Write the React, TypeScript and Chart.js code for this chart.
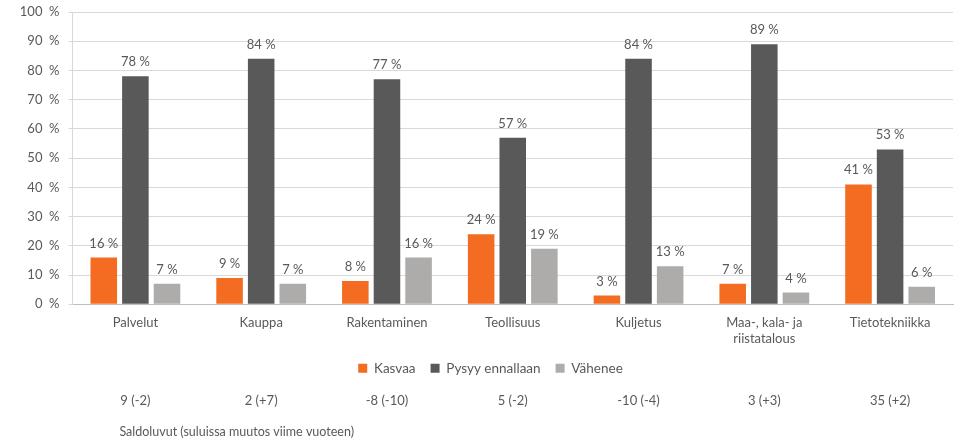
import { useEffect, useRef } from "react";
import { Chart, registerables } from "chart.js";

Chart.register(...registerables);

const FONT = "Lato, 'Liberation Sans', sans-serif";
const TEXT = "#595959";

const categories: (string | string[])[] = [
  "Palvelut",
  "Kauppa",
  "Rakentaminen",
  "Teollisuus",
  "Kuljetus",
  ["Maa-, kala- ja", "riistatalous"],
  "Tietotekniikka",
];
const seriesNames = ["Kasvaa", "Pysyy ennallaan", "Vähenee"];
const kasvaa = [16, 9, 8, 24, 3, 7, 41];
const pysyy = [78, 84, 77, 57, 84, 89, 53];
const vahenee = [7, 7, 16, 19, 13, 4, 6];
const saldo = ["9 (-2)", "2 (+7)", "-8 (-10)", "5 (-2)", "-10 (-4)", "3 (+3)", "35 (+2)"];
const saldoCaption = "Saldoluvut (suluissa muutos viime vuoteen)";
const yMax = 100;
const yStep = 10;

const colors = ["#F36C21", "#595959", "#AEABAB"];

const extraText = {
  id: "extraText",
  afterLayout(chart: any) {
    if (chart.legend) {
      chart.legend.left += 14;
      chart.legend.right += 14;
    }
  },
  afterDatasetsDraw(chart: any) {
    const ctx = chart.ctx;
    ctx.save();
    ctx.font = `13px ${FONT}`;
    ctx.fillStyle = TEXT;
    ctx.textAlign = "center";
    ctx.textBaseline = "alphabetic";
    chart.data.datasets.forEach((ds: any, i: number) => {
      const meta = chart.getDatasetMeta(i);
      meta.data.forEach((bar: any, j: number) => {
        ctx.fillText(`${ds.data[j]} %`, bar.x, bar.y - 10);
      });
    });
    const xs = chart.scales.x;
    ctx.textBaseline = "middle";
    saldo.forEach((s, j) => ctx.fillText(s, xs.getPixelForValue(j), chart.height - 44));
    ctx.textAlign = "left";
    ctx.font = `12.5px ${FONT}`;
    ctx.fillText(saldoCaption, xs.getPixelForValue(0) - 16, chart.height - 13);
    ctx.restore();
  },
};

export default function App() {
  const ref = useRef<HTMLCanvasElement | null>(null);
  useEffect(() => {
    if (!ref.current) return;
    const series = [kasvaa, pysyy, vahenee];
    const chart = new Chart(ref.current, {
      type: "bar",
      data: {
        labels: categories,
        datasets: series.map((d, i) => ({
          label: seriesNames[i],
          data: d,
          backgroundColor: colors[i],
          borderWidth: 0,
          categoryPercentage: 0.754,
          barPercentage: 0.84,
        })),
      },
      options: {
        animation: false,
        responsive: true,
        maintainAspectRatio: false,
        layout: { padding: { left: 0, right: 8, top: 12, bottom: 60 } },
        plugins: {
          tooltip: { enabled: false },
          legend: {
            position: "bottom",
            labels: {
              boxWidth: 9,
              boxHeight: 9,
              padding: 15,
              color: TEXT,
              font: { family: FONT, size: 13.5 },
            },
          },
        },
        scales: {
          x: {
            afterFit(scale: any) {
              scale.height -= 11;
            },
            grid: { display: false, drawTicks: false },
            border: { display: true, color: "#BFBFBF" },
            ticks: { color: TEXT, font: { family: FONT, size: 13 }, padding: 11, maxRotation: 0, autoSkip: false },
          },
          y: {
            min: 0,
            max: yMax,
            afterFit(scale: any) {
              scale.width = 72.5;
              scale.paddingTop = 0;
            },
            grid: { color: "#D9D9D9", tickLength: 4 },
            border: { display: true, color: "#D9D9D9" },
            ticks: {
              stepSize: yStep,
              color: TEXT,
              font: { family: FONT, size: 13 },
              padding: 9,
              callback: (v: any) => `${v}  %`,
            },
          },
        },
      },
      plugins: [extraText],
    });
    return () => chart.destroy();
  }, []);
  return (
    <div style={{ position: "fixed", left: 0, top: 0, width: 961, height: 445 }}>
      <canvas ref={ref} />
    </div>
  );
}
